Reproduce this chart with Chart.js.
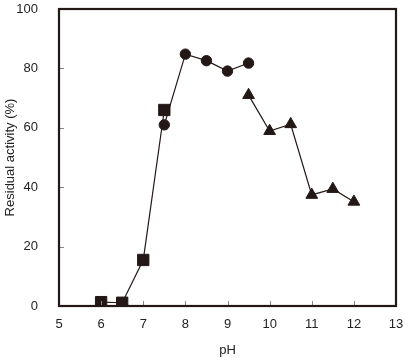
<!DOCTYPE html>
<html><head><meta charset="utf-8">
<script src="https://cdn.jsdelivr.net/npm/chart.js@4/dist/chart.umd.min.js"></script>
<style>html,body{margin:0;padding:0;background:#fff}#wrap{width:405px;height:358px}</style>
</head><body><div id="wrap"><canvas id="c" width="405" height="358"></canvas></div>
<script>
const squareX = [6, 6.5, 7, 7.5];
const squareY = [1.3, 1.1, 15.5, 66];
const circleX = [7.5, 8, 8.5, 9, 9.5];
const circleY = [61, 84.8, 82.6, 79.1, 81.8];
const triangleX = [9.5, 10, 10.5, 11, 11.5, 12];
const triangleY = [71, 58.9, 61.2, 37.4, 39.4, 35.1];
const xTicks = [5, 6, 7, 8, 9, 10, 11, 12, 13];
const yTicks = [0, 20, 40, 60, 80, 100];
const xTitle = 'pH';
const yTitle = 'Residual activity (%)';

const INK = '#231815';
const FONT = 'Liberation Sans, Arial, sans-serif';
const pts = (xs, ys) => xs.map((x, i) => ({x, y: ys[i]}));

const frame = {
  id: 'frame',
  afterDatasetsDraw(chart) {
    const {ctx, chartArea: a, scales: {x, y}} = chart;
    ctx.save();
    ctx.strokeStyle = '#888';
    ctx.lineWidth = 1;
    ctx.beginPath();
    xTicks.slice(1, -1).forEach(v => {
      const px = Math.round(x.getPixelForValue(v)) + 0.5;
      ctx.moveTo(px, a.bottom); ctx.lineTo(px, a.bottom - 5);
    });
    yTicks.slice(1, -1).forEach(v => {
      const py = Math.round(y.getPixelForValue(v)) + 0.5;
      ctx.moveTo(a.left, py); ctx.lineTo(a.left + 5, py);
    });
    ctx.stroke();
    ctx.strokeStyle = INK;
    ctx.lineWidth = 2.2;
    ctx.strokeRect(a.left, a.top, a.right - a.left, a.bottom - a.top);
    ctx.restore();
  }
};

const ds = (label, data, style, r) => ({
  label, data, showLine: true,
  borderColor: INK, backgroundColor: INK, borderWidth: 1.2,
  pointStyle: style, pointRadius: r, pointHoverRadius: r,
  pointBackgroundColor: INK, pointBorderColor: INK, pointBorderWidth: 1
});

new Chart(document.getElementById('c'), {
  type: 'scatter',
  data: {
    datasets: [
      ds('square', pts(squareX, squareY), 'rect', 8),
      ds('circle', pts(circleX, circleY), 'circle', 5.2),
      ds('triangle', pts(triangleX, triangleY), 'triangle', 6.8)
    ]
  },
  options: {
    responsive: false, animation: false, devicePixelRatio: 1,
    layout: {padding: {top: 9, right: 9, left: 0, bottom: 0}},
    plugins: {legend: {display: false}, tooltip: {enabled: false}},
    scales: {
      x: {
        type: 'linear', min: 5, max: 13,
        afterBuildTicks: s => { s.ticks = xTicks.map(v => ({value: v})); },
        afterFit: s => { s.height = 52; s.paddingLeft = 0; s.paddingRight = 0; },
        grid: {display: false},
        border: {display: false},
        ticks: {color: '#222', font: {family: FONT, size: 13}, padding: 3, maxRotation: 0},
        title: {display: true, text: xTitle, color: '#222', font: {family: FONT, size: 13}, padding: {top: 4, bottom: 0}}
      },
      y: {
        type: 'linear', min: 0, max: 100,
        afterBuildTicks: s => { s.ticks = yTicks.map(v => ({value: v})); },
        afterFit: s => { s.width = 59; s.paddingTop = 0; s.paddingBottom = 0; },
        grid: {display: false},
        border: {display: false},
        ticks: {color: '#222', font: {family: FONT, size: 13}, padding: 13},
        title: {display: true, text: yTitle, color: '#222', font: {family: FONT, size: 13}, padding: {top: 3, bottom: 0}}
      }
    }
  },
  plugins: [frame]
});
</script></body></html>
